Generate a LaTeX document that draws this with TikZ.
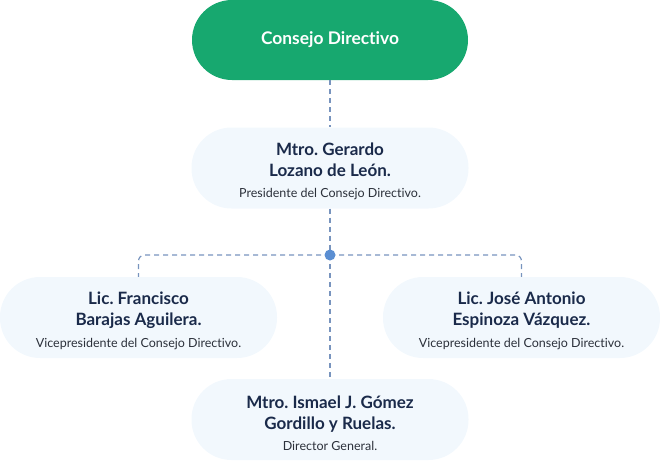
\documentclass[tikz,border=0pt]{standalone}
\usepackage{fontspec}
\setmainfont{Lato}[Ligatures={NoCommon,NoRare,NoDiscretionary}]
\frenchspacing
\definecolor{topgreen}{HTML}{17A86F}
\definecolor{boxfill}{HTML}{F2F8FD}
\definecolor{namecol}{HTML}{1A2A4A}
\definecolor{subcol}{HTML}{2B303A}
\definecolor{linecol}{HTML}{7894BE}
\definecolor{dotcol}{HTML}{5A8ED2}
\newcommand{\namefont}{\fontsize{17}{21}\selectfont\bfseries\color{namecol}}
\newcommand{\subfont}{\fontsize{12.5}{21}\selectfont\mdseries\color{subcol}}
\newcommand{\personentry}[3]{{\namefont #1}\\{\namefont #2}\\[0.5pt]{\subfont #3}}
\begin{document}
\begin{tikzpicture}[x=1pt,y=1pt,
  topbox/.style={fill=topgreen, rounded corners=40pt, minimum width=276pt, minimum height=80pt, inner sep=0pt,
    text=white, font=\fontsize{17.4}{20}\selectfont\bfseries},
  personbox/.style={fill=boxfill, rounded corners=40pt, minimum width=277pt, minimum height=81pt, inner sep=0pt},
  persontext/.style={align=center, inner sep=0pt, font=\fontsize{17}{21}\selectfont, yshift=-3.5pt},
  conn/.style={draw=linecol, line width=1.2pt, dash pattern=on 5pt off 4pt},
]
\useasboundingbox (0,0) rectangle (660,-460);
\node[topbox] (cd) at (330,-40) {Consejo Directivo};
\node[personbox] (pres) at (330,-168) {};
\node[personbox] (vp1) at (138.5,-317.5) {};
\node[personbox] (vp2) at (521.5,-317.5) {};
\node[personbox] (dg) at (330,-419.5) {};
\node[persontext] (prestext) at (pres.center) {\personentry{Mtro. Gerardo}{Lozano de León.}{Presidente del Consejo Directivo.}};
\node[persontext] (vp1text) at (vp1.center) {\personentry{Lic. Francisco}{Barajas Aguilera.}{Vicepresidente del Consejo Directivo.}};
\node[persontext] (vp2text) at (vp2.center) {\personentry{Lic. José Antonio}{Espinoza Vázquez.}{Vicepresidente del Consejo Directivo.}};
\node[persontext] (dgtext) at (dg.center) {\personentry{Mtro. Ismael J. Gómez}{Gordillo y Ruelas.}{Director General.}};
\coordinate (hub) at (330,-255);
\draw[conn] (cd.south) -- (pres.north);
\draw[conn] (pres.south) -- (hub);
\draw[conn] (hub) -- (dg.north);
\draw[conn, rounded corners=6pt] (hub) -| (vp1.north);
\draw[conn, rounded corners=6pt] (hub) -| (vp2.north);
\fill[dotcol] (hub) circle (5.5pt);
\end{tikzpicture}
\end{document}
